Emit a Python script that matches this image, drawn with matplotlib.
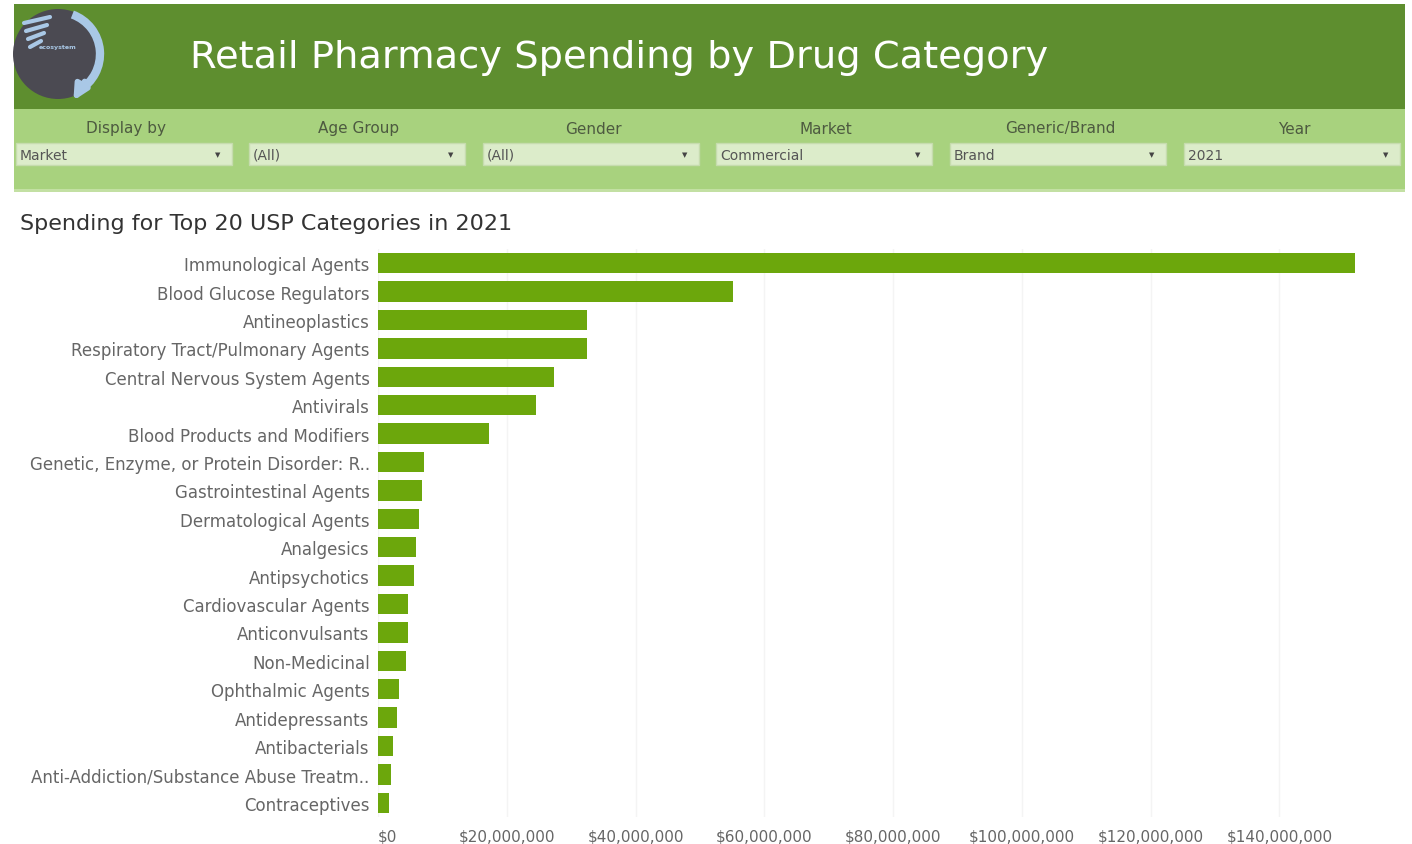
import numpy as np
import matplotlib
matplotlib.use("Agg")
import matplotlib.pyplot as plt
from matplotlib.patches import Rectangle, Circle, Arc, FancyArrowPatch
from matplotlib.ticker import FuncFormatter

# data (US$ millions)
categories = [
    "Immunological Agents",
    "Blood Glucose Regulators",
    "Antineoplastics",
    "Respiratory Tract/Pulmonary Agents",
    "Central Nervous System Agents",
    "Antivirals",
    "Blood Products and Modifiers",
    "Genetic, Enzyme, or Protein Disorder: R..",
    "Gastrointestinal Agents",
    "Dermatological Agents",
    "Analgesics",
    "Antipsychotics",
    "Cardiovascular Agents",
    "Anticonvulsants",
    "Non-Medicinal",
    "Ophthalmic Agents",
    "Antidepressants",
    "Antibacterials",
    "Anti-Addiction/Substance Abuse Treatm..",
    "Contraceptives",
]
spending_m = [151.7, 55.1, 32.4, 32.5, 27.3, 24.6, 17.2, 7.1, 6.8, 6.4,
              5.9, 5.6, 4.7, 4.6, 4.3, 3.3, 2.9, 2.3, 2.0, 1.7]
spending = np.array(spending_m) * 1e6

filter_labels = ["Display by", "Age Group", "Gender", "Market", "Generic/Brand", "Year"]
filter_values = ["Market", "(All)", "(All)", "Commercial", "Brand", "2021"]
tick_values = np.arange(0, 160e6, 20e6)

W, H = 1412, 845
plt.rcParams['font.family'] = ['DejaVu Sans']
fig = plt.figure(figsize=(W / 100, H / 100), dpi=100)
fig.patch.set_facecolor("white")

# background axes in pixel coords for the header
bg = fig.add_axes([0, 0, 1, 1])
bg.set_xlim(0, W)
bg.set_ylim(H, 0)
bg.axis("off")

bg.add_patch(Rectangle((14, 5), 1391, 106, color="#5e8e2f", lw=0))
bg.add_patch(Rectangle((14, 110), 1391, 83, color="#a8d27e", lw=0))
bg.add_patch(Rectangle((14, 190), 1391, 3, color="#c3e0a3", lw=0))

# logo
bg.add_patch(Circle((58, 55), 45, color="#4b4a52", lw=0))
bg.add_patch(Arc((58, 55), 84, 84, theta1=-70, theta2=60, color="#a9c8e6", lw=6))
bg.add_patch(FancyArrowPatch((86, 80), (72, 104), arrowstyle="-|>", mutation_scale=22,
                             color="#a9c8e6", lw=4))
for i, yy in enumerate([18, 26, 34, 42]):
    bg.plot([24 + i * 2, 50 - i * 3], [yy + 6, yy], color="#a9c8e6", lw=3, solid_capstyle="round")
bg.text(58, 48, "ecosystem", color="#a9c8e6", fontsize=4.5, ha="center", va="center", weight="bold")

bg.text(190, 58, "Retail Pharmacy Spending by Drug Category", color="white",
        fontsize=27.6, ha="left", va="center")

# filter dropdowns
box_x = [16, 249, 483, 716, 950, 1184]
box_w = 216
for x0, lab, val in zip(box_x, filter_labels, filter_values):
    bg.text(x0 + box_w / 2 + 2, 129, lab, color="#4d5a40", fontsize=11, ha="center", va="center")
    bg.add_patch(Rectangle((x0, 144), box_w, 22, facecolor="#dcecca", edgecolor="#c6dcae", lw=1))
    bg.text(x0 + 4, 155.5, val, color="#555555", fontsize=10, ha="left", va="center")
    bg.text(x0 + box_w - 14, 155.5, "\u25BC", color="#444444", fontsize=5, ha="center", va="center")

bg.text(20, 224, "Spending for Top 20 USP Categories in 2021", color="#333333",
        fontsize=16, ha="left", va="center")

# bar chart
ax = fig.add_axes([378 / W, 1 - 818 / H, (1405 - 378) / W, 568 / H])
y = np.arange(len(categories))
ax.barh(y, spending, height=0.72, color="#6ca70c", zorder=3)
ax.set_ylim(len(categories) - 0.5, -0.5)
ax.set_xlim(0, 159.5e6)
ax.set_yticks(y)
ax.set_yticklabels(categories, fontsize=12, color="#666666")
ax.set_xticks(tick_values)
ax.xaxis.set_major_formatter(FuncFormatter(lambda v, p: "${:,.0f}".format(v)))
ax.tick_params(axis="x", labelsize=11, labelcolor="#666666", length=0, pad=8)
ax.tick_params(axis="y", length=0, pad=6)
for s in ax.spines.values():
    s.set_visible(False)
ax.grid(axis="x", color="#f4f4f4", lw=1, zorder=0)
ax.set_facecolor("none")
xt = ax.get_xticklabels()
xt[0].set_ha("left")

fig.savefig("out.png", dpi=100)
